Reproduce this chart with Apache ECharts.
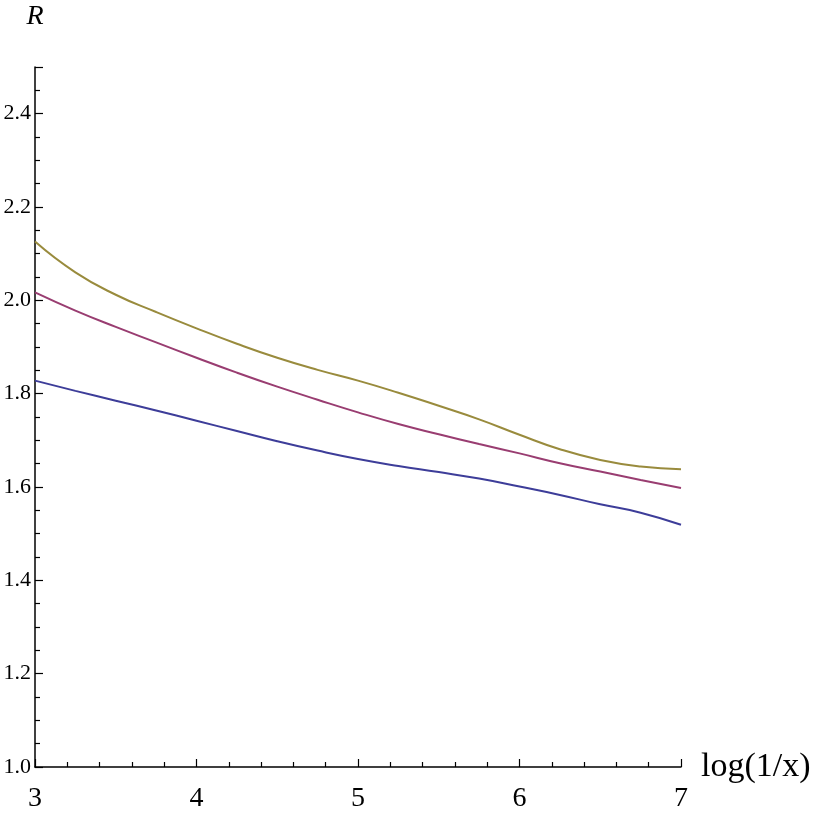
<!DOCTYPE html>
<html>
<head>
<meta charset="utf-8">
<script src="https://cdn.jsdelivr.net/npm/echarts@6/dist/echarts.min.js"></script>
<style>
  html, body { margin: 0; padding: 0; background: #fff; }
  #main { width: 817px; height: 817px; }
</style>
</head>
<body>
<div id="main"></div>
<script>
var xs = [3.0, 3.25, 3.5, 3.75, 4.0, 4.25, 4.5, 4.75, 5.0, 5.25, 5.5, 5.75, 6.0, 6.25, 6.5, 6.75, 7.0];
var blue = [1.828, 1.806, 1.785, 1.764, 1.742, 1.720, 1.698, 1.678, 1.660, 1.645, 1.632, 1.618, 1.601, 1.583, 1.563, 1.545, 1.519];
var magenta = [2.017, 1.978, 1.943, 1.910, 1.877, 1.845, 1.815, 1.787, 1.760, 1.735, 1.713, 1.692, 1.672, 1.651, 1.633, 1.615, 1.598];
var gold = [2.126, 2.060, 2.012, 1.975, 1.940, 1.907, 1.877, 1.851, 1.828, 1.802, 1.774, 1.745, 1.712, 1.681, 1.658, 1.644, 1.638];

function pairs(ys) {
    var out = [];
    for (var i = 0; i < xs.length; i++) {
        out.push([xs[i], ys[i]]);
    }
    return out;
}

var serif = '"Liberation Serif", "Times New Roman", serif';
var app = echarts.init(document.getElementById('main'));

function line(ys, color) {
    return {
        type: 'line',
        data: pairs(ys),
        smooth: 0.5,
        showSymbol: false,
        lineStyle: { color: color, width: 2 },
        animation: false
    };
}

var option = {
    backgroundColor: '#fff',
    grid: { left: 35, right: 136, top: 67, bottom: 50, containLabel: false, outerBoundsMode: 'none' },
    xAxis: {
        type: 'value',
        min: 3,
        max: 7,
        interval: 1,
        name: 'log(1/x)',
        nameLocation: 'end',
        nameGap: 20,
        nameTextStyle: { fontFamily: serif, fontSize: 34, color: '#000' },
        axisLine: { lineStyle: { color: '#000', width: 1.5 } },
        axisTick: { inside: true, length: 8, lineStyle: { color: '#000', width: 1.2 } },
        minorTick: { show: true, splitNumber: 5, length: 5, lineStyle: { color: '#000', width: 1.2 } },
        axisLabel: { fontFamily: serif, fontSize: 28, color: '#000', margin: 18 },
        splitLine: { show: false }
    },
    yAxis: {
        type: 'value',
        min: 1.0,
        max: 2.5,
        interval: 0.2,
        name: 'R',
        nameLocation: 'end',
        nameGap: 36,
        nameTextStyle: { fontFamily: serif, fontSize: 28, fontStyle: 'italic', color: '#000', align: 'center' },
        axisLine: { show: true, lineStyle: { color: '#000', width: 1.5 } },
        axisTick: { show: true, inside: true, length: 8, lineStyle: { color: '#000', width: 1.2 } },
        minorTick: { show: true, splitNumber: 4, length: 5, lineStyle: { color: '#000', width: 1.2 } },
        axisLabel: {
            fontFamily: serif, fontSize: 22, color: '#000', margin: 4,
            formatter: function (v) { return v > 2.45 ? '' : v.toFixed(1); }
        },
        splitLine: { show: false }
    },
    series: [
        line(blue, '#3d3d99'),
        line(magenta, '#993d71'),
        line(gold, '#998b3d')
    ]
};
app.setOption(option);
</script>
</body>
</html>
